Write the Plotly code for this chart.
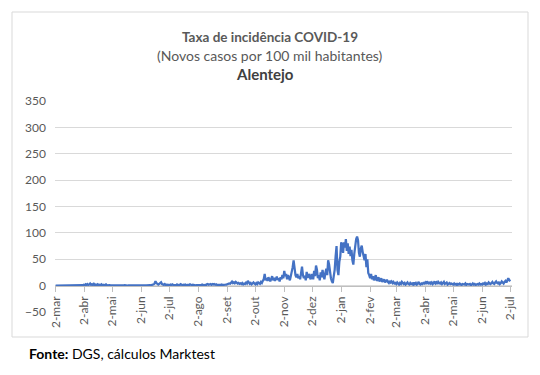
import pandas as pd
import plotly.graph_objects as go

# ---- data (daily incidence per 100k, Alentejo) ----
start_date = "2020-03-02"
mar20 = [0,0,0,0,0,0,0,0,0,0, 0,0,0,0,0,0.1,0.2,0.1,0.3,0.2, 0.5,0.3,0.6,0.4,0.8,0.5,1.0,0.6,1.2,0.8]
apr20 = [1.5,0.8,2.5,1.0,3.0,1.2,2.0,4.0,1.5,2.8, 1.0,3.5,1.2,2.0,0.8,2.6,1.0,1.8,0.6,2.4, 0.8,1.5,0.5,1.2,2.2,0.6,1.0,0.4,0.8,0.5]
may20 = [0.4,0.8,0.3,0.6,1.0,0.3,0.5,0.2,0.7,0.4, 0.3,0.6,0.2,0.5,0.8,0.3,0.4,0.2,0.6,0.3, 0.5,0.2,0.4,0.7,0.3,0.2,0.5,0.3,0.6,0.4, 0.2]
jun20 = [0.3,0.5,0.2,0.4,0.6,0.3,0.5,0.8,0.4,0.6, 1.0,0.5,0.8,1.5,2.5,4.0,8.5,5.0,3.0,2.0, 3.5,5.0,6.5,3.0,2.0,1.5,3.0,1.2,2.0,1.0]
jul20 = [1.5,0.8,2.0,1.0,2.5,1.2,0.8,1.8,1.0,2.2, 0.8,1.5,1.0,2.8,1.2,0.8,1.6,1.0,2.0,0.8, 1.4,0.6,1.2,2.5,1.0,0.8,1.6,0.9,1.3,0.7, 1.1]
aug20 = [1.0,0.8,1.5,0.7,1.2,2.0,1.0,0.8,1.4,0.9, 2.5,3.0,1.8,2.6,3.2,1.5,2.8,2.0,3.0,1.6, 2.4,1.2,1.0,1.8,0.9,1.5,2.2,1.0,1.6,2.5, 1.8]
sep20 = [2.0,3.0,2.5,4.0,3.5,6.0,7.5,5.0,6.5,4.5, 7.0,5.5,4.0,5.0,3.5,4.5,3.0,5.0,2.5,4.0, 3.0,5.5,4.0,9.0,6.0,3.5,5.0,2.5,4.0,6.0]
oct20 = [4.0,2.5,5.0,3.0,6.0,4.0,3.5,7.0,5.0,9.0, 12.0,22.0,10.0,14.0,9.0,16.0,11.0,8.0,13.0,18.0, 10.0,15.0,9.0,12.0,17.0,11.0,14.0,8.0,16.0,12.0, 20.0]
nov20 = [14,28,18,22,12,20,15,10,18,25, 35,48,30,20,16,22,14,18,12,24, 36,20,14,19,10,26,15,18,22,12]
dec20 = [15,22,12,28,18,38,30,14,20,10, 25,16,30,18,12,24,32,20,48,40, 22,14,8,5,18,30,55,75,30,20, 45]
jan21 = [55,82,78,62,82,72,88,66,80,60, 74,56,68,48,40,60,78,88,93,86, 62,55,70,76,64,58,48,60,35,50, 24]
feb21 = [20,14,22,12,18,10,14,20,9,12, 16,8,11,14,7,10,12,6,9,11, 7,5,9,6,8,5,7,4]
mar21 = [5,3,6,4,2,5,3,7,4,3, 5,2,4,6,3,2,5,3,4,2, 6,3,5,2,4,7,3,2,4,3, 5]
apr21 = [4,6,3,8,5,3,7,4,6,3, 5,8,4,6,3,7,5,4,6,3, 5,7,3,4,6,2,4,5,3,4]
may21 = [3,2,4,2,3,1,3,2,4,2, 1,3,2,2,4,1,3,2,2,3, 1,2,4,2,3,1,2,3,2,4, 2]
jun21 = [3,2,4,3,5,2,4,3,6,4, 3,5,7,4,3,6,8,5,4,7, 3,5,8,6,4,7,9,6,10,14]
jul21 = [11,8]

tick_months = ["mar", "abr", "mai", "jun", "jul", "ago", "set", "out", "nov",
               "dez", "jan", "fev", "mar", "abr", "mai", "jun", "jul"]
y_ticks = [-50, 0, 50, 100, 150, 200, 250, 300, 350]

title_1 = "Taxa de incidência COVID-19"
title_2 = "(Novos casos por 100 mil habitantes)"
title_3 = "Alentejo"
source = "<b>Fonte:</b> DGS, cálculos Marktest"

values = (mar20 + apr20 + may20 + jun20 + jul20 + aug20 + sep20 + oct20 + nov20
          + dec20 + jan21 + feb21 + mar21 + apr21 + may21 + jun21 + jul21)
dates = pd.date_range(start_date, periods=len(values), freq="D")
tick_dates = pd.date_range(start_date, periods=len(tick_months), freq=pd.DateOffset(months=1))
tick_text = ["2-" + m for m in tick_months]

# ---- layout geometry: page pixels; the page body has an 8px margin ----
OFF = 8
W, H = 540 - 2 * OFF, 375 - 2 * OFF
PL, PR, PT, PB = 55, 512, 101, 312          # plot area in page pixels
L, R, T, B = PL - OFF, W - (PR - OFF), PT - OFF, H - (PB - OFF)
PW, PH = PR - PL, PB - PT
FONT = "Lato"


def px(x):
    return (x - PL) / PW


def py(y):
    return (PB - y) / PH


fig = go.Figure()
fig.add_trace(go.Scatter(x=dates, y=values, mode="lines",
                         line=dict(color="#4472C4", width=2.25),
                         hoverinfo="skip", showlegend=False))

fig.update_layout(
    width=W, height=H,
    margin=dict(l=L, r=R, t=T, b=B, autoexpand=False),
    paper_bgcolor="white", plot_bgcolor="white",
    font=dict(family=FONT, size=12, color="#595959"),
    showlegend=False,
    xaxis=dict(
        type="date",
        range=["2020-03-01 08:00", "2021-07-04"],
        tickvals=tick_dates, ticktext=tick_text, tickangle=-90,
        tickfont=dict(family=FONT, size=12, color="#595959"),
        showgrid=False, zeroline=False,
        showline=True, linecolor="#BFBFBF", linewidth=1,
        ticks="outside", ticklen=5, tickcolor="#BFBFBF",
        anchor="free", position=(0 - y_ticks[0]) / (y_ticks[-1] - y_ticks[0]),
    ),
    yaxis=dict(
        range=[y_ticks[0], y_ticks[-1]],
        tickvals=y_ticks,
        tickfont=dict(family=FONT, size=12, color="#595959"),
        showgrid=True, gridcolor="#D9D9D9", gridwidth=1,
        zeroline=False, showline=False, ticks="", ticklabelstandoff=8,
    ),
    shapes=[dict(type="rect", xref="paper", yref="paper",
                 x0=px(12), x1=px(528), y0=py(337), y1=py(12),
                 line=dict(color="#D9D9D9", width=1), layer="below")],
    annotations=[
        dict(text="<b>" + title_1 + "</b>", xref="paper", yref="paper",
             x=px(270), y=py(37), xanchor="center", yanchor="middle",
             showarrow=False, font=dict(family=FONT, size=13.5, color="#595959")),
        dict(text=title_2, xref="paper", yref="paper",
             x=px(270), y=py(56), xanchor="center", yanchor="middle",
             showarrow=False, font=dict(family=FONT, size=14, color="#595959")),
        dict(text="<b>" + title_3 + "</b>", xref="paper", yref="paper",
             x=px(265), y=py(74), xanchor="center", yanchor="middle",
             showarrow=False, font=dict(family=FONT, size=15, color="#404040")),
        dict(text=source, xref="paper", yref="paper",
             x=px(27), y=py(353), xanchor="left", yanchor="middle",
             showarrow=False, font=dict(family=FONT, size=14, color="#000000")),
    ],
)

fig.write_html("out.html")
